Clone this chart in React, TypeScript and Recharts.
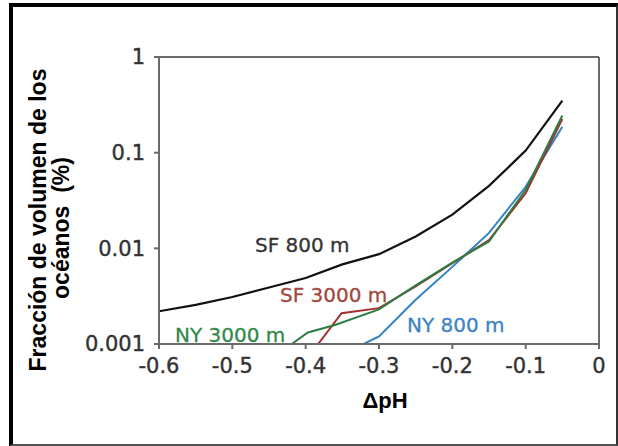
import { LineChart, Line, XAxis, YAxis, ReferenceLine } from 'recharts';

// ΔpH vs fraction of ocean volume (%), log scale
const sf800Ph = [-0.6, -0.55, -0.5, -0.45, -0.4, -0.35, -0.3, -0.25, -0.2, -0.15, -0.1, -0.05];
const sf800Vol = [0.0022, 0.00256, 0.0031, 0.0039, 0.0049, 0.0068, 0.0087, 0.0133, 0.0225, 0.045, 0.105, 0.35];

const sf3000Ph = [-0.383, -0.351, -0.3, -0.25, -0.2, -0.15, -0.1, -0.05];
const sf3000Vol = [0.001, 0.0021, 0.00237, 0.004, 0.007, 0.0122, 0.0376, 0.225];

const ny3000Ph = [-0.419, -0.397, -0.36, -0.3, -0.25, -0.2, -0.15, -0.1, -0.05];
const ny3000Vol = [0.001, 0.00132, 0.00158, 0.0023, 0.0041, 0.0071, 0.0118, 0.041, 0.245];

const ny800Ph = [-0.321, -0.3, -0.25, -0.2, -0.15, -0.1, -0.05];
const ny800Vol = [0.001, 0.0012, 0.0029, 0.0064, 0.0145, 0.044, 0.187];

const xTicks = [-0.6, -0.5, -0.4, -0.3, -0.2, -0.1, 0];
const yTicks = [0.001, 0.01, 0.1, 1];

const toPoints = (xs: number[], ys: number[]) => xs.map((x, i) => ({ ph: x, vol: ys[i] }));

const tickStyle = { fill: '#333', stroke: '#333', strokeWidth: 0.4, fontSize: 21, fontFamily: 'DejaVu Sans' };
const axisGray = '#6a6a6a';

export default function App() {
    return (
        <div style={{ position: 'absolute', left: 0, top: 0, width: 618, height: 446, background: '#fff' }}>
            <LineChart
                width={618}
                height={446}
                margin={{ top: 57, right: 19, bottom: 72, left: 0 }}
            >
                <XAxis
                    type="number"
                    dataKey="ph"
                    domain={[-0.6, 0]}
                    ticks={xTicks}
                    height={30}
                    tickFormatter={(v: number) => (v === 0 ? '0' : v.toFixed(1))}
                    tick={tickStyle}
                    tickSize={5}
                    tickMargin={9}
                    stroke={axisGray}
                    strokeWidth={2}
                    allowDataOverflow
                />
                <YAxis
                    type="number"
                    dataKey="vol"
                    scale="log"
                    domain={[0.001, 1]}
                    ticks={yTicks}
                    width={159}
                    tickFormatter={(v: number) => String(v)}
                    tick={tickStyle}
                    tickSize={5}
                    tickMargin={9}
                    stroke={axisGray}
                    strokeWidth={2}
                    allowDataOverflow
                />
                <ReferenceLine y={1} stroke={axisGray} strokeWidth={2} />
                <ReferenceLine x={0} stroke={axisGray} strokeWidth={2} />
                <Line data={toPoints(sf800Ph, sf800Vol)} dataKey="vol" type="linear" stroke="#111" strokeWidth={2.2} dot={false} isAnimationActive={false} />
                <Line data={toPoints(ny800Ph, ny800Vol)} dataKey="vol" type="linear" stroke="#2f82c8" strokeWidth={2} dot={false} isAnimationActive={false} />
                <Line data={toPoints(sf3000Ph, sf3000Vol)} dataKey="vol" type="linear" stroke="#a3302b" strokeWidth={2} dot={false} isAnimationActive={false} />
                <Line data={toPoints(ny3000Ph, ny3000Vol)} dataKey="vol" type="linear" stroke="#2e7d43" strokeWidth={2} dot={false} isAnimationActive={false} />
            </LineChart>

            <svg width={618} height={446} style={{ position: 'absolute', left: 0, top: 0, pointerEvents: 'none' }}>
                <g fontFamily="DejaVu Sans" fontSize={20} strokeWidth={0.3}>
                    <text x={255} y={252} fill="#333" stroke="#333">SF 800 m</text>
                    <text x={280} y={302} fill="#a0473f" stroke="#a0473f">SF 3000 m</text>
                    <text x={175} y={342} fill="#2f8a4a" stroke="#2f8a4a">NY 3000 m</text>
                    <text x={407} y={332} fill="#3a84c4" stroke="#3a84c4">NY 800 m</text>
                </g>
                <g fontFamily="Liberation Sans, Arial" fontWeight="bold" fill="#000">
                    <text x={46} y={220} fontSize={23} textAnchor="middle" transform="rotate(-90 46 220)">
                        Fracción de volumen de los
                    </text>
                    <text x={69} y={228} fontSize={23} textAnchor="middle" transform="rotate(-90 69 228)" style={{ whiteSpace: 'pre' }}>
                        {'océanos  (%)'}
                    </text>
                    <text x={385} y={408} fontSize={22} textAnchor="middle">ΔpH</text>
                </g>
            </svg>

            <div
                style={{
                    position: 'absolute',
                    left: 9,
                    top: 3,
                    width: 609,
                    height: 443,
                    boxSizing: 'border-box',
                    borderLeft: '4px solid #000',
                    borderTop: '4px solid #000',
                    borderRight: '2px solid #333',
                    borderBottom: '2px solid #555',
                    pointerEvents: 'none',
                }}
            />
        </div>
    );
}
